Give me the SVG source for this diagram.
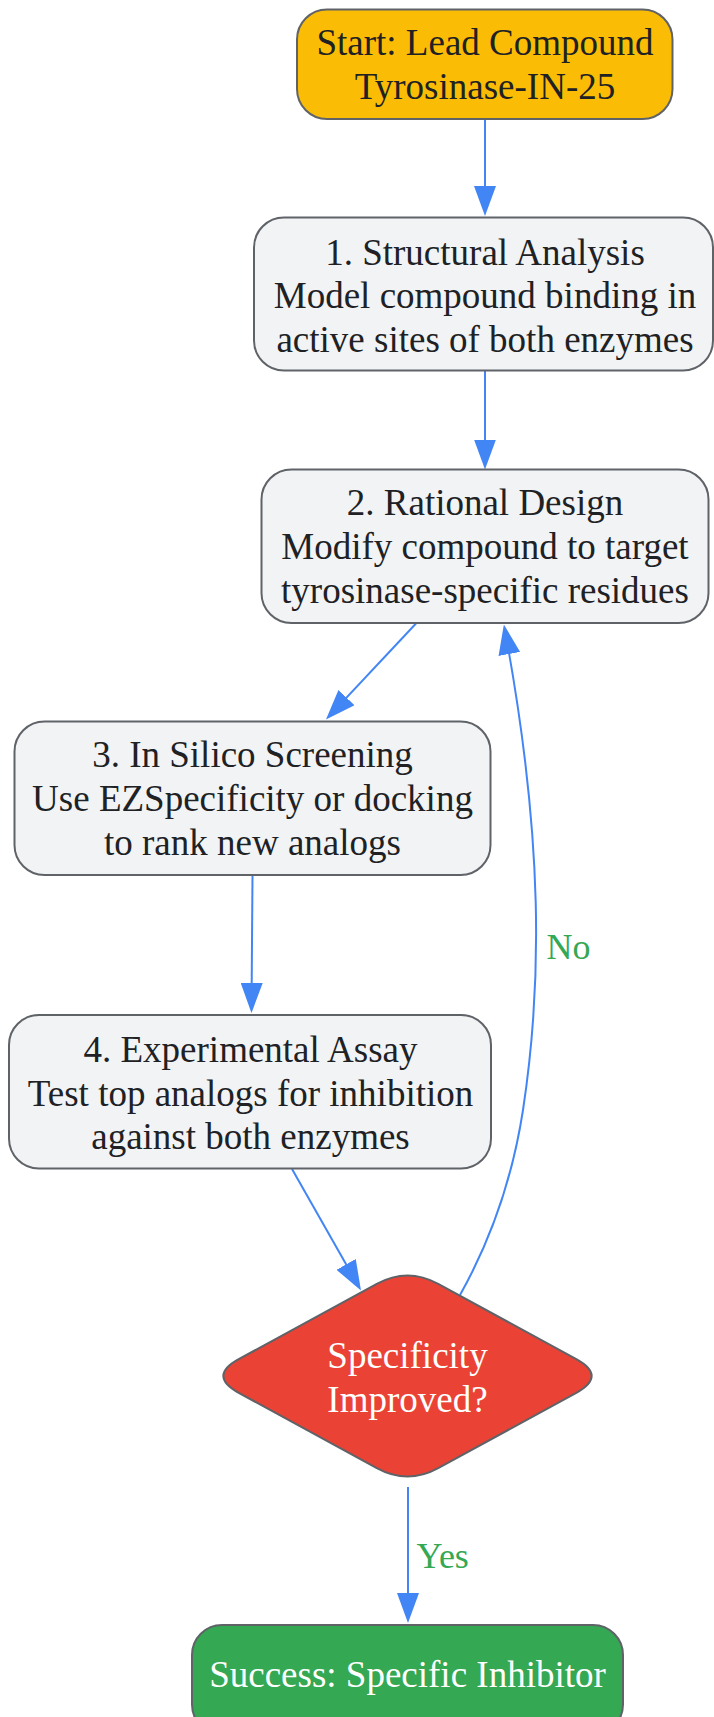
<svg xmlns="http://www.w3.org/2000/svg" width="714" height="1717" viewBox="0 0 714 1717">
<style>
.box{stroke:#5f6368;stroke-width:2}
.gray{fill:#f1f3f4}
.t{font-family:"Liberation Serif","Times New Roman",serif;font-size:37px;text-anchor:middle;fill:#202124}
.w{fill:#ffffff}
.lbl{font-family:"Liberation Serif","Times New Roman",serif;font-size:36px;fill:#34a853}
.e{fill:none;stroke:#4285f4;stroke-width:2}
</style>
<defs>
<marker id="ah" markerUnits="userSpaceOnUse" markerWidth="30" markerHeight="22" refX="26" refY="11" orient="auto">
<path d="M0,0 L30,11 L0,22 z" fill="#4285f4"/>
</marker>
</defs>
<rect width="714" height="1717" fill="#ffffff"/>
<g id="connectors">
<path class="e" d="M485,119 L485,212" marker-end="url(#ah)"/>
<path class="e" d="M485,371 L485,465.5" marker-end="url(#ah)"/>
<path class="e" d="M416,623.5 L328.7,716.6" marker-end="url(#ah)"/>
<path class="e" d="M252.5,875.5 L251.5,1009" marker-end="url(#ah)"/>
<path class="e" d="M292,1169 L359,1287" marker-end="url(#ah)"/>
<path class="e" d="M460,1295 C492,1238 513,1175 523,1110 C542,985 544,840 504.6,628.4" marker-end="url(#ah)"/>
<path class="e" d="M408,1487 L408,1619" marker-end="url(#ah)"/>
<text class="lbl" x="546.5" y="959">No</text>
<text class="lbl" x="416.5" y="1568">Yes</text>
</g>
<g id="start">
<rect class="box" x="297" y="9.5" width="375.5" height="109.5" rx="30" fill="#fbbc05"/>
<text class="t" x="485" y="55">Start: Lead Compound</text>
<text class="t" x="485" y="99">Tyrosinase-IN-25</text>
</g>
<g id="step1">
<rect class="box gray" x="254" y="217.5" width="459" height="153" rx="30"/>
<text class="t" x="485" y="264.5">1. Structural Analysis</text>
<text class="t" x="485" y="308">Model compound binding in</text>
<text class="t" x="485" y="351.5">active sites of both enzymes</text>
</g>
<g id="step2">
<rect class="box gray" x="261.5" y="469.5" width="447" height="153.5" rx="30"/>
<text class="t" x="485" y="515">2. Rational Design</text>
<text class="t" x="485" y="559">Modify compound to target</text>
<text class="t" x="485" y="603">tyrosinase-specific residues</text>
</g>
<g id="step3">
<rect class="box gray" x="14.5" y="721.5" width="476" height="153.5" rx="30"/>
<text class="t" x="252.5" y="767">3. In Silico Screening</text>
<text class="t" x="252.5" y="811">Use EZSpecificity or docking</text>
<text class="t" x="252.5" y="855">to rank new analogs</text>
</g>
<g id="step4">
<rect class="box gray" x="9" y="1015" width="482" height="153.5" rx="30"/>
<text class="t" x="250.5" y="1062">4. Experimental Assay</text>
<text class="t" x="250.5" y="1105.5">Test top analogs for inhibition</text>
<text class="t" x="250.5" y="1149">against both enzymes</text>
</g>
<g id="decision">
<path class="box" fill="#ea4335" d="M376.8,1283.8 Q407.5,1267 438.2,1283.8 L576.3,1359.2 Q607,1376 576.3,1392.8 L438.2,1468.2 Q407.5,1485 376.8,1468.2 L238.7,1392.8 Q208,1376 238.7,1359.2 Z"/>
<text class="t w" x="407.5" y="1368">Specificity</text>
<text class="t w" x="407.5" y="1411.5">Improved?</text>
</g>
<g id="success">
<rect class="box" x="192" y="1625" width="431" height="109.5" rx="30" fill="#34a853"/>
<text class="t w" x="407.5" y="1686.5">Success: Specific Inhibitor</text>
</g>
</svg>
